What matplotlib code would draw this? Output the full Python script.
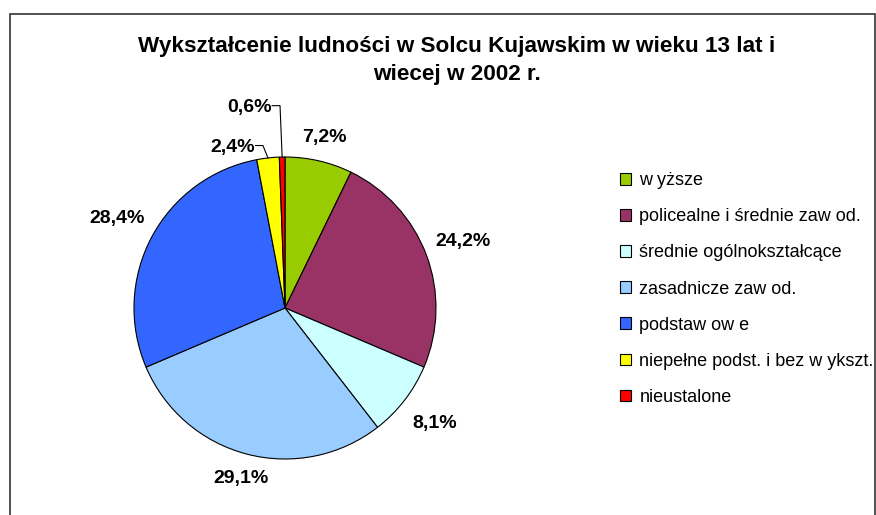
import matplotlib
matplotlib.use('Agg')
import matplotlib.pyplot as plt
from matplotlib.patches import Rectangle, Patch
import numpy as np

plt.rcParams['font.family'] = ['Liberation Sans', 'DejaVu Sans']

title = 'Wykształcenie ludności w Solcu Kujawskim w wieku 13 lat i\nwiecej w 2002 r.'
categories = ['w yższe', 'policealne i średnie zaw od.', 'średnie ogólnokształcące',
              'zasadnicze zaw od.', 'podstaw ow e', 'niepełne podst. i bez w ykszt.',
              'nieustalone']
values = [7.2, 24.2, 8.1, 29.1, 28.4, 2.4, 0.6]
labels = ['7,2%', '24,2%', '8,1%', '29,1%', '28,4%', '2,4%', '0,6%']
colors = ['#99CC00', '#993366', '#CCFFFF', '#99CCFF', '#3366FF', '#FFFF00', '#FF0000']

fig = plt.figure(figsize=(8.76, 5.15), dpi=100)
fig.patch.set_facecolor('white')

# chart area border
fig.add_artist(Rectangle((10/876, -0.02), 865/876, (515-14)/515 + 0.02,
                         transform=fig.transFigure, fill=False,
                         edgecolor='#333333', linewidth=1.2))

fig.text(457/876, 1 - 60.5/515, title, ha='center', va='center',
         fontsize=16.2, fontweight='bold', linespacing=1.42)

ax = fig.add_axes([134/876, 56/515, 302/876, 302/515])
wedges, texts = ax.pie(values, colors=colors, startangle=90, counterclock=False,
                       wedgeprops=dict(edgecolor='black', linewidth=0.8))
ax.set_xlim(-1, 1)
ax.set_ylim(-1, 1)

dist = [1.16, 1.26, 1.25, 1.17, 1.26]
for i, w in enumerate(wedges[:5]):
    ang = np.deg2rad((w.theta1 + w.theta2) / 2)
    ax.text(dist[i]*np.cos(ang), dist[i]*np.sin(ang), labels[i], ha='center',
            va='center', fontsize=14, fontweight='bold', clip_on=False)

# small slices with leader lines
small = {5: ((-0.20, 1.066), (-0.146, 1.066)), 6: ((-0.09, 1.33), (-0.033, 1.33))}
for i, (txt_pos, knee) in small.items():
    w = wedges[i]
    ang = np.deg2rad((w.theta1 + w.theta2) / 2)
    edge = (np.cos(ang), np.sin(ang))
    ax.text(txt_pos[0], txt_pos[1], labels[i], ha='right', va='center',
            fontsize=14, fontweight='bold', clip_on=False)
    ax.plot([txt_pos[0] + 0.005, knee[0], edge[0]], [knee[1] + 0.01, knee[1] + 0.01, edge[1]],
            color='black', linewidth=0.8, clip_on=False)

handles = [Patch(facecolor=c, edgecolor='black', linewidth=0.8) for c in colors]
fig.legend(handles, categories, loc='center left',
           bbox_to_anchor=(620/876, 1 - 289/515), frameon=False,
           fontsize=13, handlelength=0.62, handleheight=0.62,
           handletextpad=0.45, labelspacing=1.06, borderaxespad=0,
           borderpad=0)

fig.savefig('out.png', dpi=100)
